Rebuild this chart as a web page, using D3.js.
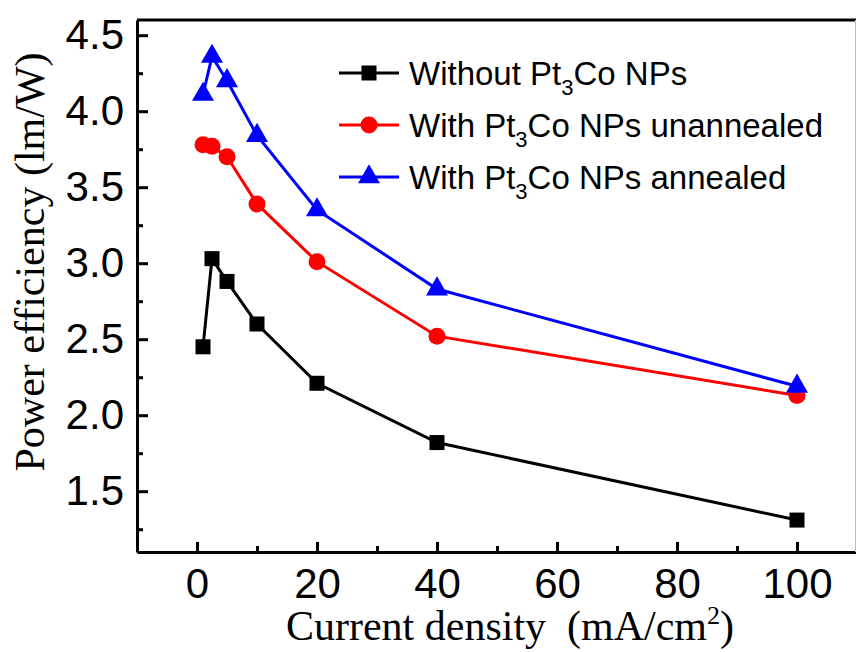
<!DOCTYPE html>
<html>
<head>
<meta charset="utf-8">
<script src="https://cdn.jsdelivr.net/npm/d3@7"></script>
<style>
  body { margin: 0; background: #fff; }
  svg { display: block; }
</style>
</head>
<body>
<svg id="chart" width="856" height="652"></svg>
<script>
// current density values (mA/cm2), shared by all three devices
var currentDensity = [1, 2.5, 5, 10, 20, 40, 100];

// power efficiency (lm/W)
var withoutNPs = [2.45, 3.03, 2.88, 2.60, 2.21, 1.82, 1.31];
var unannealed = [3.78, 3.77, 3.70, 3.39, 3.01, 2.52, 2.13];
var annealed = [4.11, 4.36, 4.20, 3.84, 3.35, 2.83, 2.19];

var seriesNames = ["Without Pt|3|Co NPs", "With Pt|3|Co NPs unannealed", "With Pt|3|Co NPs annealed"];
var seriesColors = ["#000000", "#ff0000", "#0000ff"];
var seriesShapes = ["square", "circle", "triangle"];

var xMajor = [0, 20, 40, 60, 80, 100];
var xMinor = [10, 30, 50, 70, 90];
var yMajor = [1.5, 2.0, 2.5, 3.0, 3.5, 4.0, 4.5];
var yMinor = [1.25, 1.75, 2.25, 2.75, 3.25, 3.75, 4.25];

var margin = {top: 20, left: 137, bottom: 552, right: 857};

var svg = d3.select("#chart");

var x = d3.scaleLinear().domain([-10, 110]).range([margin.left, margin.right]);
var y = d3.scaleLinear().domain([1.1, 4.6]).range([margin.bottom, margin.top]);

// bottom axis, ticks pointing inward
svg.append("g")
    .attr("transform", "translate(0," + margin.bottom + ")")
    .call(d3.axisBottom(x).tickValues(xMajor).tickSizeInner(-10).tickSizeOuter(0).tickPadding(16));
svg.append("g")
    .attr("transform", "translate(0," + margin.bottom + ")")
    .call(d3.axisBottom(x).tickValues(xMinor).tickSizeInner(-6).tickSizeOuter(0).tickFormat(""))
    .select(".domain").remove();

// left axis
svg.append("g")
    .attr("transform", "translate(" + margin.left + ",0)")
    .call(d3.axisLeft(y).tickValues(yMajor).tickSizeInner(-11).tickSizeOuter(0).tickPadding(13)
        .tickFormat(d3.format(".1f")));
svg.append("g")
    .attr("transform", "translate(" + margin.left + ",0)")
    .call(d3.axisLeft(y).tickValues(yMinor).tickSizeInner(-6).tickSizeOuter(0).tickFormat(""))
    .select(".domain").remove();

svg.selectAll(".domain, .tick line")
    .attr("stroke", "#000")
    .attr("stroke-width", 3);

svg.selectAll(".tick text")
    .attr("fill", "#000")
    .style("font-family", "'Liberation Sans', Arial, sans-serif")
    .style("font-size", "42px");

// top frame line, right edge is cut off in the original so only a faint line
svg.append("line")
    .attr("x1", margin.left).attr("x2", 856)
    .attr("y1", margin.top).attr("y2", margin.top)
    .attr("stroke", "#000").attr("stroke-width", 3);
svg.append("line")
    .attr("x1", 855.5).attr("x2", 855.5)
    .attr("y1", margin.top).attr("y2", margin.bottom)
    .attr("stroke", "#bbb").attr("stroke-width", 1);

// axis titles
var xTitle = svg.append("text")
    .attr("x", 510)
    .attr("y", 640)
    .attr("text-anchor", "middle")
    .style("font-family", "'Liberation Serif', 'Times New Roman', serif")
    .style("font-size", "42px");
xTitle.append("tspan").text("Current density\u00a0\u00a0(mA/cm");
xTitle.append("tspan").attr("dy", -16).style("font-size", "26px").text("2");
xTitle.append("tspan").attr("dy", 16).text(")");

svg.append("text")
    .attr("transform", "translate(44,262) rotate(-90)")
    .attr("text-anchor", "middle")
    .style("font-family", "'Liberation Serif', 'Times New Roman', serif")
    .style("font-size", "42px")
    .text("Power efficiency (lm/W)");

function drawMarker(g, shape, color) {
    if (shape == "square") {
        g.append("rect").attr("x", -7.5).attr("y", -7.5).attr("width", 15).attr("height", 15).attr("fill", color);
    } else if (shape == "circle") {
        g.append("circle").attr("r", 8.5).attr("fill", color);
    } else {
        g.append("path").attr("d", d3.symbol().type(d3.symbolTriangle).size(210)).attr("fill", color);
    }
}

var allSeries = [withoutNPs, unannealed, annealed];

var line = d3.line()
    .x(function(d, i) { return x(currentDensity[i]); })
    .y(function(d) { return y(d); });

allSeries.forEach(function(values, s) {
    svg.append("path")
        .datum(values)
        .attr("d", line)
        .attr("fill", "none")
        .attr("stroke", seriesColors[s])
        .attr("stroke-width", 3);
    svg.selectAll(".pt" + s)
        .data(values)
        .enter().append("g")
        .attr("class", "pt" + s)
        .attr("transform", function(d, i) {
            return "translate(" + x(currentDensity[i]) + "," + y(d) + ")";
        })
        .each(function() { drawMarker(d3.select(this), seriesShapes[s], seriesColors[s]); });
});

// legend
var legendY = [73, 125, 177];
seriesNames.forEach(function(name, s) {
    var g = svg.append("g").attr("transform", "translate(339," + legendY[s] + ")");
    g.append("line").attr("x1", 0).attr("x2", 60).attr("stroke", seriesColors[s]).attr("stroke-width", 3);
    var m = g.append("g").attr("transform", "translate(30,0)");
    drawMarker(m, seriesShapes[s], seriesColors[s]);
    var parts = name.split("|");
    var t = g.append("text")
        .attr("x", 70)
        .attr("y", 12)
        .style("font-family", "'Liberation Sans', Arial, sans-serif")
        .style("font-size", "33px");
    t.append("tspan").text(parts[0]);
    t.append("tspan").attr("dy", 10).style("font-size", "22px").text(parts[1]);
    t.append("tspan").attr("dy", -10).text(parts[2]);
});
</script>
</body>
</html>
